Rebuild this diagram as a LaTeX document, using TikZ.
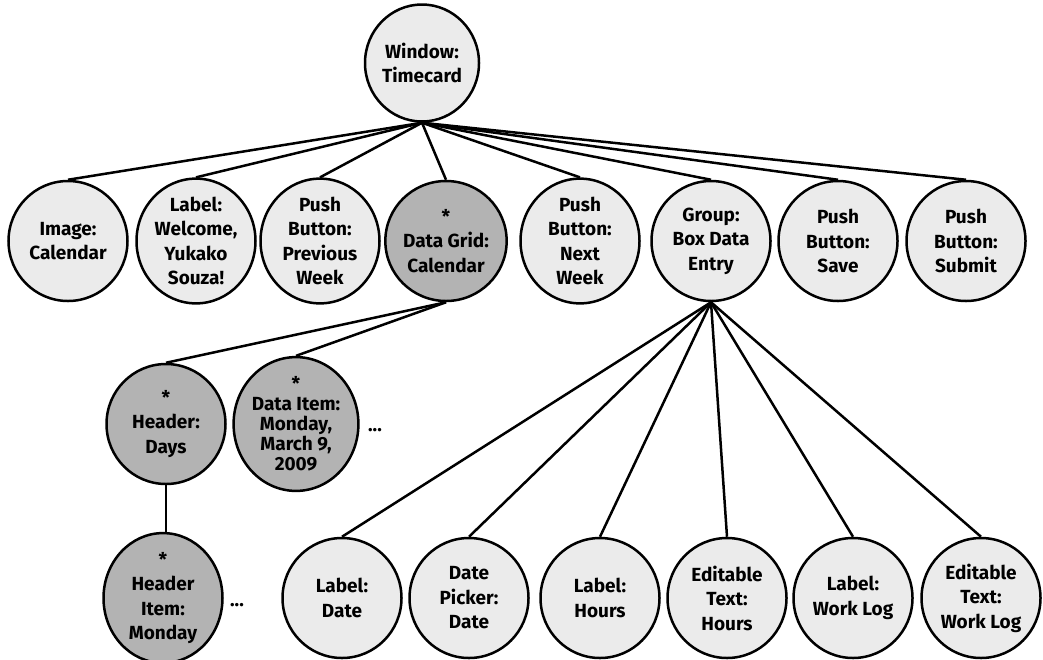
\documentclass[tikz,border=0pt]{standalone}
\usepackage{fontspec}
\setmainfont{Fira Sans}
\usetikzlibrary{shapes.geometric}
\definecolor{lightfill}{HTML}{EBEBEB}
\definecolor{darkfill}{HTML}{B3B3B3}
\tikzset{
  elem/.style={ellipse, draw=black, line width=2.5pt, fill=lightfill, minimum width=119pt, minimum height=120pt, inner sep=0pt, align=center, font=\fontsize{19}{24.5}\selectfont\bfseries},
  dark/.style={elem, fill=darkfill},
  link/.style={draw=black, line width=2.5pt},
  dots/.style={font=\fontsize{19}{24}\selectfont\bfseries, inner sep=0pt}
}
\begin{document}
\begin{tikzpicture}[x=1pt,y=-1pt]
\useasboundingbox[fill=white] (0,0) rectangle (1043,659);
% row 1
\node[elem, minimum width=114pt, minimum height=117pt] (win) at (422,63) {Window:\\Timecard};
% row 2
\node[elem] (img) at (68,241) {Image:\\Calendar};
\node[elem] (lbl) at (196,241) {Label:\\Welcome,\\Yukako\\Souza!};
\node[elem] (prev) at (320,241) {Push\\Button:\\Previous\\Week};
\node[dark] (grid) at (446,241) {*\\Data Grid:\\Calendar};
\node[elem] (next) at (580,241) {Push\\Button:\\Next\\Week};
\node[elem] (grp) at (711,241) {Group:\\Box Data\\Entry};
\node[elem] (save) at (838,241) {Push\\Button:\\Save};
\node[elem] (sub) at (966,241) {Push\\Button:\\Submit};
% row 3
\node[dark] (hdr) at (166,424) {*\\Header:\\Days};
\node[dark, font=\fontsize{19}{20}\selectfont\bfseries] (item) at (296,424) {*\\Data Item:\\Monday,\\March 9,\\2009};
\node[dots] (dots1) at (375,430) {...};
% row 4
\node[dark] (hitem) at (163,598) {*\\Header\\Item:\\Monday};
\node[dots] (dots2) at (237,605) {...};
\node[elem] (ldate) at (342,598) {Label:\\Date};
\node[elem] (dpick) at (469,598) {Date\\Picker:\\Date};
\node[elem] (lhours) at (600,598) {Label:\\Hours};
\node[elem] (ehours) at (727,598) {Editable\\Text:\\Hours};
\node[elem] (lwl) at (853,598) {Label:\\Work Log};
\node[elem] (ewl) at (981,598) {Editable\\Text:\\Work Log};
% connectors
\foreach \c in {img,lbl,prev,grid,next,grp,save,sub}
  \draw[link] (win.south) -- (\c.north);
\foreach \c in {hdr,item}
  \draw[link] (grid.south) -- (\c.north);
\draw[link] (hdr.south) -- (hdr.south |- hitem.north);
\foreach \c in {ldate,dpick,lhours,ehours,lwl,ewl}
  \draw[link] (grp.south) -- (\c.north);
\end{tikzpicture}
\end{document}
